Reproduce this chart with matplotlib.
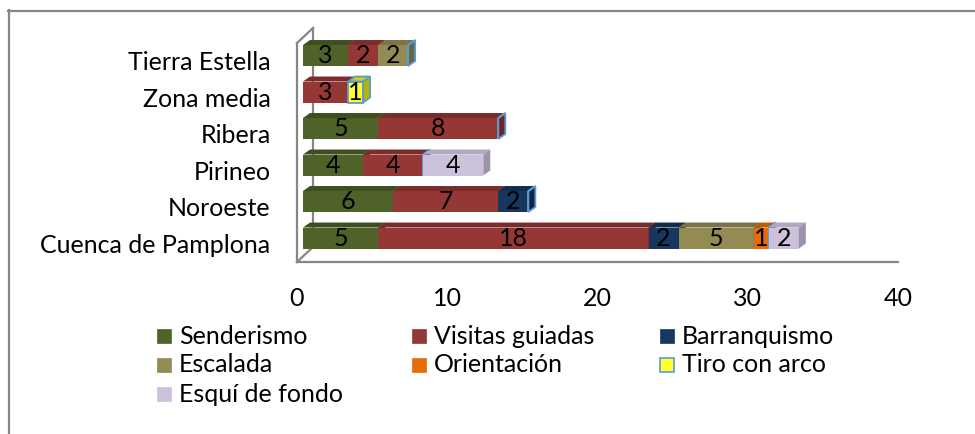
import matplotlib.pyplot as plt
import matplotlib.patches as mpatches
from matplotlib.lines import Line2D
from matplotlib.transforms import IdentityTransform
import numpy as np

# Data (bottom to top on the chart)
zonas = ['Cuenca de Pamplona', 'Noroeste', 'Pirineo', 'Ribera', 'Zona media', 'Tierra Estella']
series = ['Senderismo', 'Visitas guiadas', 'Barranquismo', 'Escalada',
          'Orientación', 'Tiro con arco', 'Esquí de fondo']
senderismo = [5, 6, 4, 5, 0, 3]
visitas = [18, 7, 4, 8, 3, 2]
barranquismo = [2, 2, 0, 0, 0, 0]
escalada = [5, 0, 0, 0, 0, 2]
orientacion = [1, 0, 0, 0, 0, 0]
tiro = [0, 0, 0, 0, 1, 0]
esqui = [2, 0, 4, 0, 0, 0]
xticks = [0, 10, 20, 30, 40]

valores = [senderismo, visitas, barranquismo, escalada, orientacion, tiro, esqui]

# front / top / side colours per series
colores = [('#4F6228', '#3E4E1F', '#3A481C'),
           ('#953735', '#7A2C2A', '#6E2624'),
           ('#17375E', '#122C4B', '#0F2540'),
           ('#948A54', '#7C7344', '#6C643A'),
           ('#E46C0A', '#C05A08', '#A84F06'),
           ('#FFFF33', '#CFCF10', '#B5B500'),
           ('#CCC1DA', '#B2A8BF', '#9C93A8')]
borde_tiro = '#5B9BD5'

plt.rcParams['font.family'] = ['Lato', 'DejaVu Sans']
fs = 18
gris = '#868686'

W, H = 975, 434
fig = plt.figure(figsize=(W / 100, H / 100), dpi=100)

# outer chart border (only top and left visible)
fig.add_artist(Line2D([8.5 / W, 8.5 / W], [0, 1 - 10 / H], color=gris, lw=1.6))
fig.add_artist(Line2D([8 / W, 1], [1 - 10.5 / H, 1 - 10.5 / H], color=gris, lw=1.6))

ax = fig.add_axes([297 / W, (H - 262) / H, 601 / W, 219 / H])
ax.set_xlim(0, 40)
ax.set_ylim(-0.52, 5.48)
for s in ['top', 'right']:
    ax.spines[s].set_visible(False)
for s in ['left', 'bottom']:
    ax.spines[s].set_color(gris)
    ax.spines[s].set_linewidth(1.6)
ax.set_xticks(xticks)
ax.set_xticklabels([str(t) for t in xticks], fontsize=fs)
ax.set_yticks(range(len(zonas)))
ax.set_yticklabels(zonas, fontsize=fs)
ax.tick_params(axis='x', length=0, pad=18)
ax.tick_params(axis='y', length=0, pad=19)

fig.canvas.draw()
T = ax.transData
I = IdentityTransform()

# side wall of the 3D box
wd = np.array([16, 15])
p_top = ax.transAxes.transform((0, 1))
p_bot = ax.transAxes.transform((0, 0))
for a, b in [(p_top, p_top + wd), (p_bot, p_bot + wd), (p_top + wd, p_bot + wd)]:
    ax.add_line(Line2D([a[0], b[0]], [a[1], b[1]], color=gris, lw=1.6,
                       transform=I, clip_on=False))

# 3D bars
front_off = np.array([6, 5])
depth = np.array([7, 5])
hbar = 0.575

for i in range(len(zonas)):
    left = 0
    for k, vals in enumerate(valores):
        v = vals[i]
        if v == 0 and series[k] != 'Tiro con arco':
            continue
        x0, x1 = left, left + v
        bl = T.transform((x0, i - hbar / 2)) + front_off
        br = T.transform((x1, i - hbar / 2)) + front_off
        tl = T.transform((x0, i + hbar / 2)) + front_off
        tr = T.transform((x1, i + hbar / 2)) + front_off
        fc, tc, sc = colores[k]
        if series[k] == 'Tiro con arco':
            ec, lw = borde_tiro, 1.3
            if v == 0:
                # empty segment: only the blue outline is visible
                fc = tc = sc = 'none'
        else:
            ec, lw = 'none', 0
        caras = [([bl, br, tr, tl], fc),
                 ([tl, tr, tr + depth, tl + depth], tc),
                 ([br, br + depth, tr + depth, tr], sc)]
        for pts, c in caras:
            ax.add_patch(mpatches.Polygon(pts, closed=True, facecolor=c,
                                          edgecolor=ec, lw=lw, transform=I,
                                          clip_on=False, zorder=3))
        if v > 0:
            cx = (bl[0] + br[0]) / 2
            cy = (bl[1] + tl[1]) / 2
            ax.text(cx, cy, str(v), transform=I, ha='center', va='center',
                    fontsize=fs, color='black', zorder=5)
        left = x1

# legend, three columns, filled row by row
col_x = [157, 412, 660]
row_y = [336, 365, 394]
sq = 14
for k, nombre in enumerate(series):
    cx = col_x[k % 3]
    cy = row_y[k // 3]
    ec = borde_tiro if nombre == 'Tiro con arco' else colores[k][0]
    fig.add_artist(mpatches.Rectangle((cx / W, (H - cy - sq / 2) / H), sq / W, sq / H,
                                      facecolor=colores[k][0], edgecolor=ec,
                                      lw=1.2 if nombre == 'Tiro con arco' else 0.5,
                                      transform=fig.transFigure))
    fig.text((cx + 22) / W, (H - cy) / H, nombre, fontsize=fs, ha='left', va='center')

fig.savefig('out.png', dpi=100)
